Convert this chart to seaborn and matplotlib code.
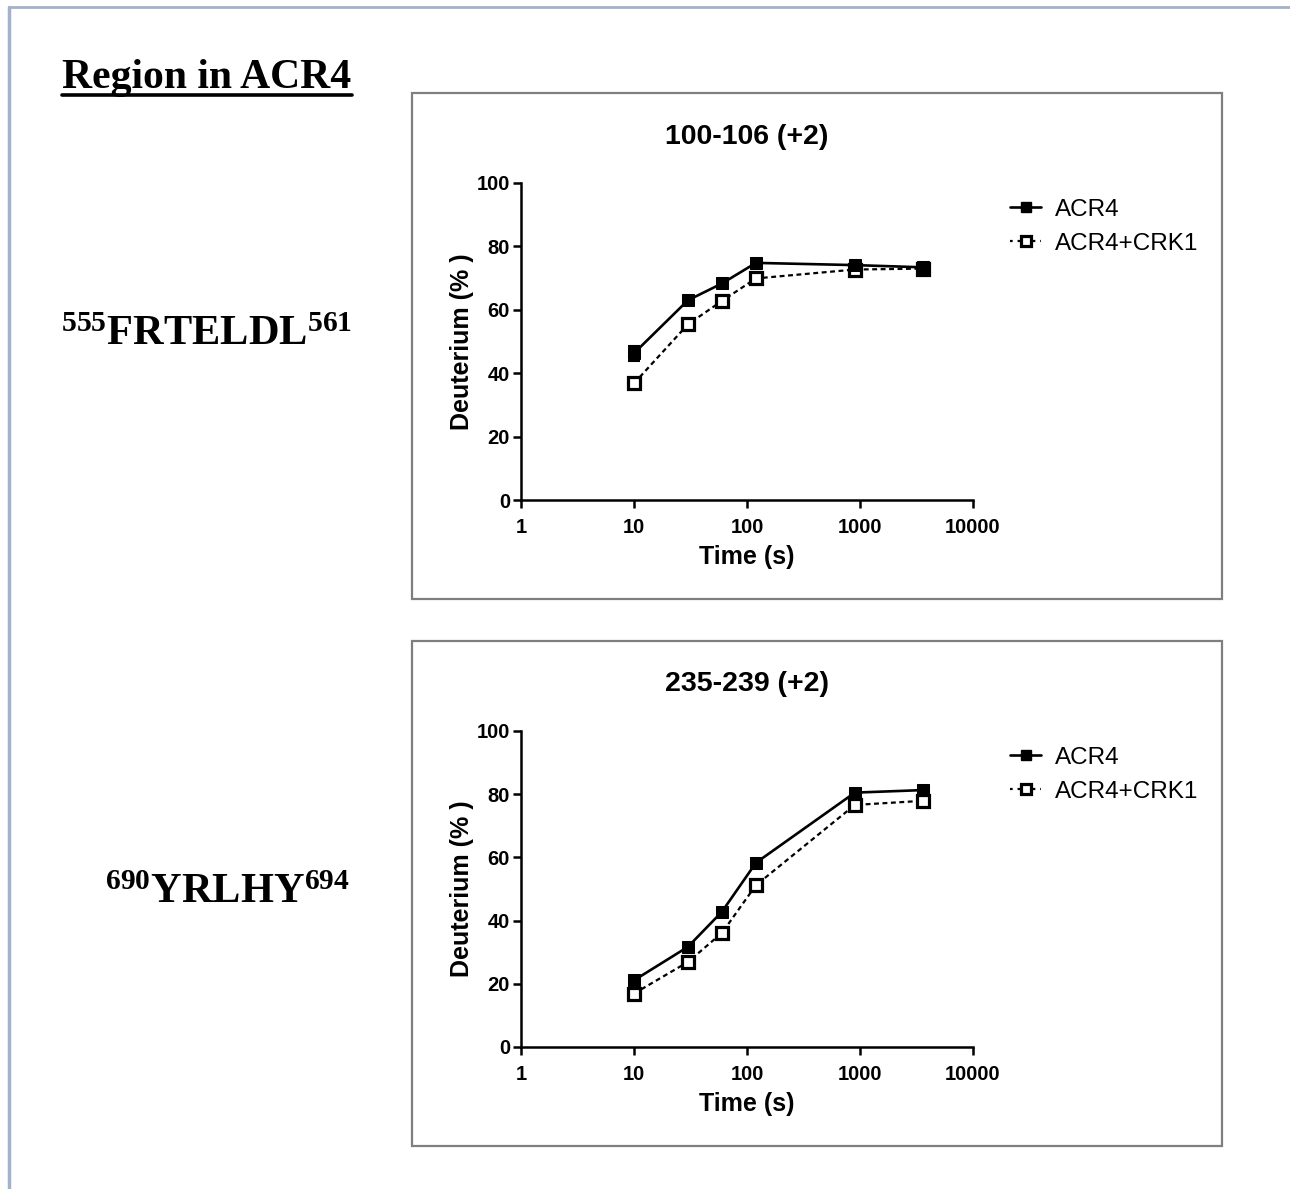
import numpy as np
import pandas as pd
import matplotlib
matplotlib.use("Agg")
import matplotlib.pyplot as plt
import seaborn as sns
from matplotlib.lines import Line2D
from matplotlib.patches import Rectangle

sns.set_theme(style="white")
plt.rcParams['font.family'] = ['Liberation Sans', 'DejaVu Sans']
plt.rcParams['mathtext.fontset'] = 'custom'
plt.rcParams['mathtext.bf'] = 'Liberation Serif:bold'
plt.rcParams['mathtext.rm'] = 'Liberation Serif:bold'
for k in ['text.color', 'axes.labelcolor', 'xtick.color', 'ytick.color']:
    plt.rcParams[k] = 'black'

# ---- data ----
time_s = [10, 30, 60, 120, 900, 3600]
conditions = ["ACR4", "ACR4+CRK1"]
panel_titles = ["100-106 (+2)", "235-239 (+2)"]
region_labels = [r"$\mathbf{^{555}FRTELDL^{561}}$", r"$\mathbf{^{690}YRLHY^{694}}$"]

p1_acr4 = [46.3, 63.0, 68.3, 74.8, 74.1, 73.4]
p1_acr4_err = [2.3, 1.2, 0.8, 1.0, 0.8, 0.6]
p1_crk1 = [36.8, 55.4, 62.8, 69.9, 72.7, 73.0]
p1_crk1_err = [0.8, 0.8, 0.8, 1.6, 0.8, 0.5]

p2_acr4 = [21.1, 31.7, 42.8, 58.3, 80.5, 81.3]
p2_acr4_err = [0.6, 0.6, 0.6, 0.8, 0.6, 0.6]
p2_crk1 = [16.9, 26.9, 36.1, 51.2, 76.6, 77.9]
p2_crk1_err = [0.6, 0.6, 0.8, 0.8, 0.6, 0.6]

xticks = [1, 10, 100, 1000, 10000]
yticks = [0, 20, 40, 60, 80, 100]

W, H = 1290, 1189
fig = plt.figure(figsize=(W / 100, H / 100), dpi=100)
fig.patch.set_facecolor("white")

def fx(px):
    return px / W

def fy(py):
    return 1 - py / H

# outer border (top and left)
fig.add_artist(Line2D([fx(9), fx(1290)], [fy(7), fy(7)], color="#a3b1cc", lw=2))
fig.add_artist(Line2D([fx(9), fx(9)], [fy(7), fy(1189)], color="#a3b1cc", lw=2.5))

panels = [
    dict(box=(412, 93, 1222, 599), ax=(521, 183, 973, 500), title_y=137,
         acr4=p1_acr4, acr4e=p1_acr4_err, crk1=p1_crk1, crk1e=p1_crk1_err,
         leg_y=189, label_xy=(207, 334)),
    dict(box=(412, 641, 1222, 1146), ax=(521, 731, 973, 1047), title_y=684,
         acr4=p2_acr4, acr4e=p2_acr4_err, crk1=p2_crk1, crk1e=p2_crk1_err,
         leg_y=737, label_xy=(228, 892)),
]

dash = (0, (2.2, 1.6))
for i, p in enumerate(panels):
    x0, y0, x1, y1 = p["box"]
    fig.add_artist(Rectangle((fx(x0), fy(y1)), fx(x1) - fx(x0), fy(y0) - fy(y1),
                             fill=False, edgecolor="#7f7f7f", lw=1.6,
                             transform=fig.transFigure))
    ax0, ay0, ax1, ay1 = p["ax"]
    ax = fig.add_axes([fx(ax0), fy(ay1), fx(ax1) - fx(ax0), fy(ay0) - fy(ay1)])
    ax.set_facecolor("none")

    df = pd.DataFrame({
        "time": time_s * 2,
        "value": p["acr4"] + p["crk1"],
        "err": p["acr4e"] + p["crk1e"],
        "cond": [conditions[0]] * len(time_s) + [conditions[1]] * len(time_s),
    })
    d1 = df[df.cond == conditions[1]]
    d0 = df[df.cond == conditions[0]]
    ax.errorbar(d1.time, d1.value, yerr=d1.err, fmt="none", ecolor="black",
                elinewidth=1.5, capsize=4, capthick=1.5, zorder=2)
    sns.lineplot(data=d1, x="time", y="value", ax=ax, color="black",
                 linestyle=dash, lw=1.6, marker="s", markersize=9,
                 markerfacecolor="white", markeredgecolor="black",
                 markeredgewidth=2.3, zorder=3)
    ax.errorbar(d0.time, d0.value, yerr=d0.err, fmt="none", ecolor="black",
                elinewidth=1.5, capsize=4, capthick=1.5, zorder=4)
    sns.lineplot(data=d0, x="time", y="value", ax=ax, color="black",
                 lw=1.9, marker="s", markersize=9, markerfacecolor="black",
                 markeredgecolor="black", zorder=5)

    ax.set_xscale("log")
    ax.set_xlim(1, 10000)
    ax.set_ylim(0, 100)
    ax.set_xticks(xticks)
    ax.set_xticklabels([str(t) for t in xticks])
    ax.minorticks_off()
    ax.set_yticks(yticks)
    for s in ["top", "right"]:
        ax.spines[s].set_visible(False)
    for s in ["left", "bottom"]:
        ax.spines[s].set_linewidth(1.8)
        ax.spines[s].set_color("black")
    ax.tick_params(axis="both", direction="out", length=6, width=1.8,
                   color="black", labelsize=14.5, bottom=True, left=True)
    ax.tick_params(axis="x", pad=7)
    ax.tick_params(axis="y", pad=2)
    for lab in ax.get_xticklabels() + ax.get_yticklabels():
        lab.set_fontweight("bold")
    ax.set_xlabel("Time (s)", fontsize=18, fontweight="bold", labelpad=6)
    ax.set_ylabel("Deuterium (% )", fontsize=18, fontweight="bold", labelpad=2)
    if ax.get_legend():
        ax.get_legend().remove()

    fig.text(fx(747), fy(p["title_y"]), panel_titles[i], ha="center", va="center",
             fontsize=20.5, fontweight="bold")

    handles = [
        Line2D([], [], color="black", lw=1.9, marker="s", markersize=7,
               markerfacecolor="black"),
        Line2D([], [], color="black", lw=1.6, linestyle=(0, (1.2, 2.2)), marker="s",
               markersize=7, markerfacecolor="white", markeredgewidth=2.3),
    ]
    fig.legend(handles, conditions, loc="upper left",
               bbox_to_anchor=(fx(1000), fy(p["leg_y"])), frameon=False,
               fontsize=17.5, handlelength=1.3, handletextpad=0.55,
               labelspacing=0.5, borderaxespad=0)

    lx, ly = p["label_xy"]
    fig.text(fx(lx), fy(ly), region_labels[i], ha="center", va="center",
             fontsize=30.5)

# header
hdr = fig.text(fx(207), fy(88), "Region in ACR4", ha="center", va="baseline",
               fontsize=30, fontweight="bold", family="Liberation Serif")
fig.canvas.draw()
bb = hdr.get_window_extent().transformed(fig.transFigure.inverted())
fig.add_artist(Line2D([bb.x0, bb.x1], [fy(95), fy(95)], color="black", lw=2.6))

fig.savefig("out.png", dpi=100, facecolor="white")
